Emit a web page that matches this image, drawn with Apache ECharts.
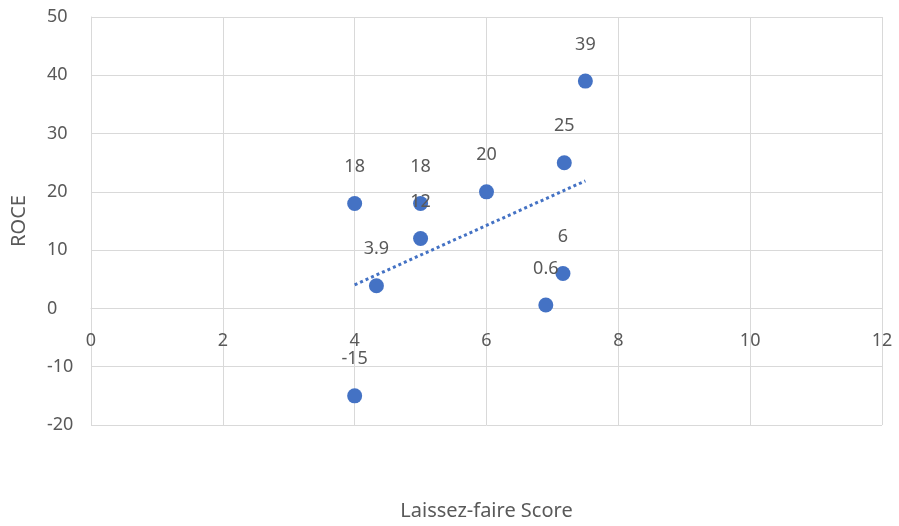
<!DOCTYPE html>
<html>
<head>
<meta charset="utf-8">
<script src="https://cdn.jsdelivr.net/npm/echarts@6/dist/echarts.min.js"></script>
<style>
  html, body { margin: 0; padding: 0; background: #fff; }
  #chart { width: 899px; height: 526px; }
</style>
</head>
<body>
<div id="chart"></div>
<script>
// данные
const scores = [4, 5, 5, 6, 7.18, 7.5, 4.33, 7.16, 6.9, 4];
const roce = [18, 18, 12, 20, 25, 39, 3.9, 6, 0.6, -15];

// линейный тренд (МНК) по тем же точкам
const n = scores.length;
const mx = scores.reduce((a, b) => a + b, 0) / n;
const my = roce.reduce((a, b) => a + b, 0) / n;
let sxy = 0, sxx = 0;
for (let i = 0; i < n; i++) {
  sxy += (scores[i] - mx) * (roce[i] - my);
  sxx += (scores[i] - mx) * (scores[i] - mx);
}
const slope = sxy / sxx;
const icpt = my - slope * mx;
const xMin = Math.min(...scores);
const xMax = Math.max(...scores);
const trend = [[xMin, icpt + slope * xMin], [xMax, icpt + slope * xMax]];

const yMin = -20, yMax = 50;
const gridTop = 17, gridBottom = 101, chartH = 526;
// сдвигаем ось X на линию y = 0 (как в Excel)
const plotH = chartH - gridTop - gridBottom;
const zeroOffset = -plotH * (0 - yMin) / (yMax - yMin);

const font = 'Noto Sans';
const textColor = '#595959';
const gridColor = '#d9d9d9';
const blue = '#4472C4';

const chart = echarts.init(document.getElementById('chart'));

const option = {
  animation: false,
  grid: { left: 91, right: 17, top: gridTop, bottom: gridBottom, outerBoundsMode: 'none', containLabel: false },
  xAxis: {
    type: 'value',
    min: 0,
    max: 12,
    interval: 2,
    offset: zeroOffset,
    name: 'Laissez-faire Score',
    nameLocation: 'middle',
    nameGap: 193,
    nameTextStyle: { fontFamily: font, fontSize: 20, color: textColor },
    axisLine: { show: true, onZero: false, lineStyle: { color: gridColor } },
    axisTick: { show: false },
    axisLabel: { margin: 23, fontFamily: font, fontSize: 18, color: textColor },
    splitLine: { show: true, lineStyle: { color: gridColor, width: 1 } }
  },
  yAxis: {
    type: 'value',
    min: yMin,
    max: yMax,
    interval: 10,
    name: 'ROCE',
    nameLocation: 'middle',
    nameGap: 62,
    nameTextStyle: { fontFamily: font, fontSize: 20, color: textColor },
    axisLine: { show: true, onZero: false, lineStyle: { color: gridColor } },
    axisTick: { show: false },
    axisLabel: { margin: 44, align: 'left', fontFamily: font, fontSize: 18, color: textColor },
    splitLine: { show: true, lineStyle: { color: gridColor, width: 1 } }
  },
  series: [
    {
      name: 'ROCE',
      type: 'scatter',
      symbolSize: 15,
      data: scores.map((x, i) => [x, roce[i]]),
      itemStyle: { color: blue, opacity: 1 },
      label: {
        show: true,
        position: 'top',
        distance: 20,
        formatter: p => String(p.value[1]),
        fontFamily: font,
        fontSize: 18,
        color: textColor
      },
      z: 3
    },
    {
      name: 'Trend',
      type: 'line',
      data: trend,
      symbol: 'none',
      lineStyle: { color: blue, width: 3, type: [3, 3] },
      z: 2
    }
  ]
};

chart.setOption(option);
window.addEventListener('resize', () => chart.resize());
</script>
</body>
</html>
